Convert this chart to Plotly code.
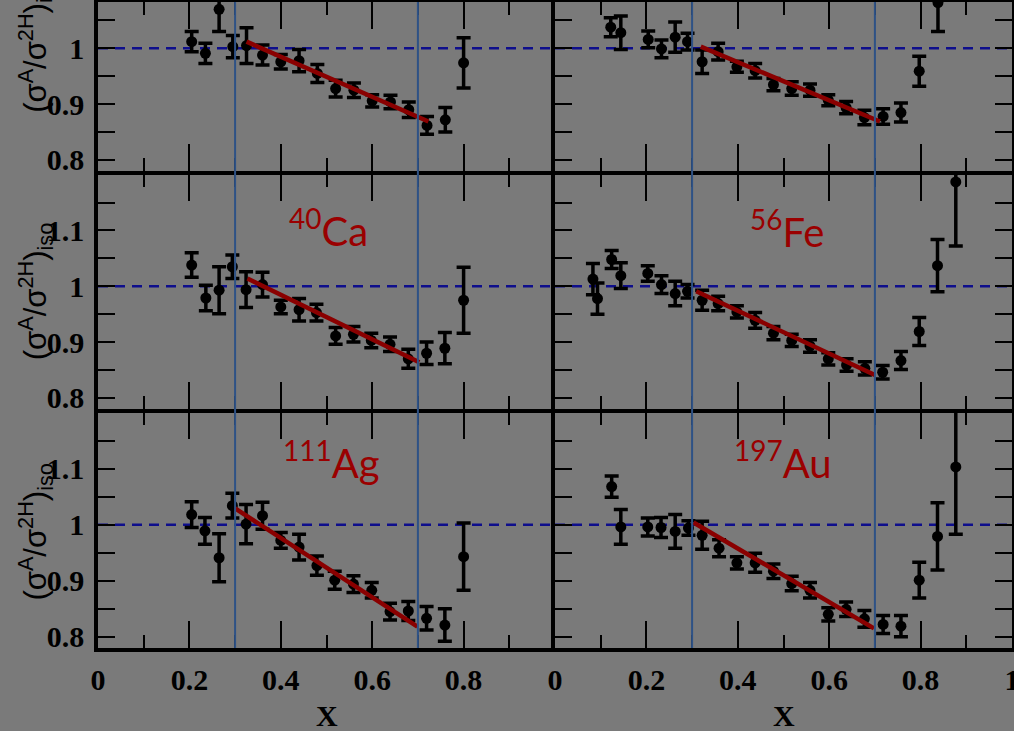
import plotly.graph_objects as go
from plotly.subplots import make_subplots

# ---------------- data ----------------
# top-left panel (label cut off in the reference)
x_tl = [0.205, 0.235, 0.265, 0.295, 0.325, 0.36, 0.40, 0.44, 0.48, 0.52, 0.56, 0.60, 0.64, 0.68, 0.72, 0.76, 0.80]
y_tl = [1.012, 0.991, 1.070, 1.003, 1.005, 0.988, 0.976, 0.978, 0.955, 0.928, 0.925, 0.906, 0.904, 0.890, 0.862, 0.872, 0.974]
e_tl = [0.018, 0.018, 0.040, 0.020, 0.032, 0.018, 0.013, 0.020, 0.016, 0.015, 0.013, 0.011, 0.012, 0.014, 0.016, 0.022, 0.045]
fit_x_tl = [0.325, 0.723]
fit_y_tl = [1.012, 0.869]

# top-right panel (label cut off in the reference)
x_tr = [0.122, 0.144, 0.204, 0.233, 0.263, 0.29, 0.322, 0.357, 0.398, 0.438, 0.478, 0.518, 0.558, 0.598, 0.637, 0.677, 0.718, 0.757, 0.797, 0.838]
y_tr = [1.038, 1.028, 1.016, 0.999, 1.020, 1.012, 0.976, 0.994, 0.967, 0.960, 0.935, 0.928, 0.925, 0.907, 0.894, 0.876, 0.878, 0.885, 0.959, 1.082]
e_tr = [0.017, 0.030, 0.015, 0.016, 0.027, 0.015, 0.021, 0.015, 0.010, 0.013, 0.011, 0.012, 0.011, 0.010, 0.011, 0.013, 0.014, 0.017, 0.027, 0.052]
fit_x_tr = [0.319, 0.711]
fit_y_tr = [1.003, 0.869]

# 40Ca
x_ca = [0.205, 0.236, 0.265, 0.294, 0.324, 0.36, 0.40, 0.44, 0.478, 0.52, 0.559, 0.598, 0.639, 0.679, 0.719, 0.759, 0.80]
y_ca = [1.038, 0.979, 0.993, 1.035, 0.994, 1.003, 0.963, 0.958, 0.953, 0.911, 0.914, 0.903, 0.896, 0.870, 0.880, 0.889, 0.975]
e_ca = [0.022, 0.023, 0.042, 0.021, 0.032, 0.022, 0.012, 0.020, 0.015, 0.015, 0.014, 0.013, 0.013, 0.017, 0.020, 0.028, 0.059]
fit_x_ca = [0.327, 0.703]
fit_y_ca = [1.014, 0.864]

# 56Fe
x_fe = [0.083, 0.093, 0.124, 0.144, 0.203, 0.233, 0.263, 0.29, 0.322, 0.357, 0.398, 0.438, 0.478, 0.518, 0.558, 0.598, 0.638, 0.678, 0.717, 0.757, 0.797, 0.837, 0.877]
y_fe = [1.013, 0.978, 1.048, 1.019, 1.023, 1.003, 0.987, 0.991, 0.975, 0.969, 0.954, 0.939, 0.916, 0.903, 0.893, 0.870, 0.859, 0.853, 0.846, 0.867, 0.919, 1.037, 1.187]
e_fe = [0.028, 0.028, 0.016, 0.023, 0.014, 0.016, 0.022, 0.012, 0.018, 0.013, 0.011, 0.014, 0.012, 0.011, 0.011, 0.011, 0.011, 0.012, 0.012, 0.016, 0.025, 0.047, 0.115]
fit_x_fe = [0.309, 0.700]
fit_y_fe = [0.991, 0.841]

# 111Ag
x_ag = [0.205, 0.234, 0.265, 0.294, 0.324, 0.36, 0.40, 0.44, 0.479, 0.518, 0.559, 0.599, 0.639, 0.679, 0.719, 0.759, 0.80]
y_ag = [1.018, 0.989, 0.941, 1.034, 1.001, 1.016, 0.972, 0.960, 0.927, 0.901, 0.894, 0.883, 0.845, 0.846, 0.833, 0.821, 0.943]
e_ag = [0.023, 0.024, 0.043, 0.022, 0.035, 0.024, 0.014, 0.023, 0.017, 0.016, 0.015, 0.014, 0.015, 0.017, 0.021, 0.029, 0.060]
fit_x_ag = [0.300, 0.699]
fit_y_ag = [1.029, 0.818]

# 197Au
x_au = [0.124, 0.144, 0.203, 0.232, 0.263, 0.292, 0.322, 0.359, 0.398, 0.438, 0.478, 0.518, 0.558, 0.598, 0.637, 0.677, 0.718, 0.757, 0.797, 0.837, 0.877]
y_au = [1.068, 0.996, 0.996, 0.995, 0.988, 0.994, 0.981, 0.958, 0.932, 0.932, 0.917, 0.895, 0.883, 0.840, 0.849, 0.832, 0.822, 0.819, 0.901, 0.979, 1.103]
e_au = [0.019, 0.031, 0.016, 0.018, 0.030, 0.013, 0.025, 0.015, 0.011, 0.017, 0.013, 0.013, 0.014, 0.012, 0.013, 0.015, 0.016, 0.019, 0.032, 0.060, 0.120]
fit_x_au = [0.303, 0.698]
fit_y_au = [1.004, 0.815]

unity_x = [0.0, 1.0]
unity_y = [1.0, 1.0]
x_cuts = [0.3, 0.7]

x_tickvals = [0, 0.2, 0.4, 0.6, 0.8, 1.0]
x_ticktext_left = ["0", "0.2", "0.4", "0.6", "0.8", ""]
x_ticktext_right = ["0", "0.2", "0.4", "0.6", "0.8", "1"]
x_minor = [0.1, 0.3, 0.5, 0.7, 0.9]
y_tickvals = [0.8, 0.9, 1.0, 1.1, 1.2]
y_ticktext = ["0.8", "0.9", "1", "1.1", ""]
y_minor = [0.85, 0.95, 1.05, 1.15]

labels = {(2, 1): ("<sup>40</sup>Ca", 0.505, 1.105),
          (2, 2): ("<sup>56</sup>Fe", 0.508, 1.102),
          (3, 1): ("<sup>111</sup>Ag", 0.512, 1.115),
          (3, 2): ("<sup>197</sup>Au", 0.498, 1.115)}

y_title = "(σ<sup>A</sup>/σ<sup>2H</sup>)<sub>iso</sub>"

# ---------------- figure ----------------
BG = "#7a7a7a"
RED_LINE = "#8a0000"
RED_TEXT = "#9a0000"
LW = 3.5
fig = make_subplots(rows=3, cols=2, row_heights=[171, 237, 238],
                    horizontal_spacing=0, vertical_spacing=LW / 646)

panels = [
    (1, 1, x_tl, y_tl, e_tl, fit_x_tl, fit_y_tl),
    (1, 2, x_tr, y_tr, e_tr, fit_x_tr, fit_y_tr),
    (2, 1, x_ca, y_ca, e_ca, fit_x_ca, fit_y_ca),
    (2, 2, x_fe, y_fe, e_fe, fit_x_fe, fit_y_fe),
    (3, 1, x_ag, y_ag, e_ag, fit_x_ag, fit_y_ag),
    (3, 2, x_au, y_au, e_au, fit_x_au, fit_y_au),
]

for r, c, xs, ys, es, fx, fy in panels:
    fig.add_trace(go.Scatter(x=unity_x, y=unity_y, mode="lines",
                             line=dict(color="#0e0e8c", width=2.5, dash="10px,7px"),
                             showlegend=False, hoverinfo="skip"), row=r, col=c)
    fig.add_trace(go.Scatter(x=xs, y=ys, mode="markers",
                             marker=dict(color="black", size=11, symbol="circle"),
                             error_y=dict(type="data", array=es, visible=True,
                                          color="black", thickness=3.5, width=7),
                             showlegend=False, hoverinfo="skip"), row=r, col=c)
    fig.add_trace(go.Scatter(x=fx, y=fy, mode="lines",
                             line=dict(color=RED_LINE, width=4.5),
                             showlegend=False, hoverinfo="skip"), row=r, col=c)

# vertical cut lines spanning all rows
for c in (1, 2):
    for xc in x_cuts:
        fig.add_shape(type="line", xref="x" if c == 1 else "x2", yref="paper",
                      x0=xc, x1=xc, y0=0, y1=1, layer="above",
                      line=dict(color="#2e5286", width=2))

tickfont = dict(family="Liberation Serif", size=30, color="black", weight="bold")
for r in (1, 2, 3):
    for c in (1, 2):
        yr = [0.78, 0.78 + 0.42 * 171 / 237] if r == 1 else [0.78, 1.2]
        fig.update_yaxes(row=r, col=c, range=yr, showgrid=False, zeroline=False,
                         automargin=False,
                         showline=True, linecolor="black", linewidth=LW,
                         mirror=False if c == 1 else "ticks",
                         ticks="inside", ticklen=17, tickwidth=2, tickcolor="black",
                         tickmode="array", tickvals=y_tickvals, ticktext=y_ticktext,
                         showticklabels=(c == 1), tickfont=tickfont,
                         ticklabelstandoff=4,
                         minor=dict(tickmode="array", tickvals=y_minor, ticks="inside",
                                    ticklen=17, tickwidth=2, tickcolor="black"))
        fig.update_xaxes(row=r, col=c, range=[0, 1], showgrid=False, zeroline=False,
                         automargin=False,
                         showline=True, linecolor="black", linewidth=LW, mirror="ticks",
                         ticks="inside", ticklen=27, tickwidth=2, tickcolor="black",
                         tickmode="array", tickvals=x_tickvals,
                         ticktext=x_ticktext_left if c == 1 else x_ticktext_right,
                         showticklabels=(r == 3), tickfont=tickfont,
                         ticklabelstandoff=2, ticklabeloverflow="allow",
                         minor=dict(tickmode="array", tickvals=x_minor, ticks="inside",
                                    ticklen=13, tickwidth=2, tickcolor="black"))

for (r, c), (txt, lx, ly) in labels.items():
    fig.add_annotation(text=txt, x=lx, y=ly, row=r, col=c, showarrow=False,
                       xanchor="center", yanchor="middle",
                       font=dict(family="Lato", size=40, color=RED_TEXT))

# y-axis titles (one per row, left side)
for yp in (0.935, 0.552, 0.18):
    fig.add_annotation(text=y_title, xref="paper", yref="paper", x=-0.068, y=yp,
                       textangle=-90, showarrow=False, xanchor="center", yanchor="middle",
                       font=dict(family="Liberation Sans", size=31, color="black"))

# x-axis titles
for xa in ("x5", "x6"):
    fig.add_annotation(text="X", xref=xa, yref="paper", x=0.5, y=-0.104,
                       showarrow=False, xanchor="center", yanchor="middle",
                       font=dict(family="Liberation Serif", size=30, color="black", weight="bold"))

fig.update_layout(width=1014, height=731, margin=dict(l=98, r=2, t=2, b=83),
                  paper_bgcolor=BG, plot_bgcolor=BG, showlegend=False)

fig.write_html("out.html")
